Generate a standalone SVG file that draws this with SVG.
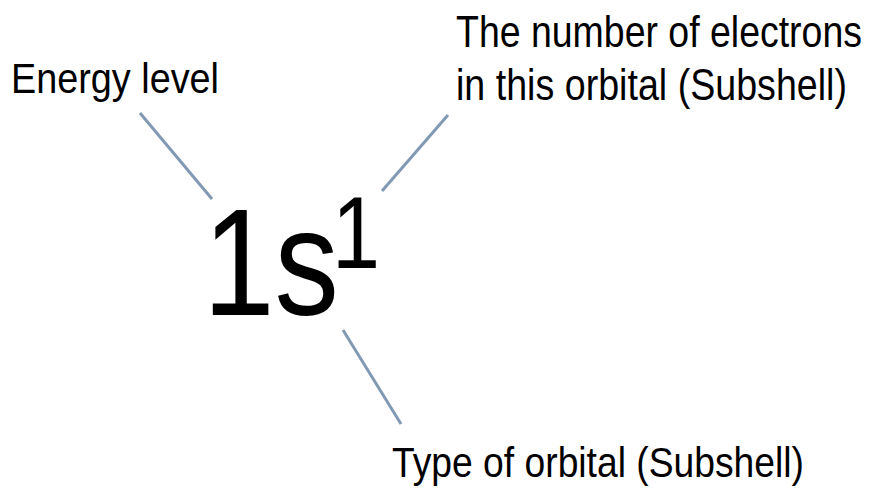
<svg xmlns="http://www.w3.org/2000/svg" width="870" height="488" viewBox="0 0 870 488">
<style>
.lbl{font-family:"Liberation Sans",Arial,sans-serif;fill:#000}
.conn line{stroke:#8199b2;stroke-width:3;stroke-linecap:butt}
</style>
<rect width="870" height="488" fill="#fff"/>
<g id="connectors" class="conn">
<line x1="140" y1="113" x2="212" y2="199"/>
<line x1="448" y1="115" x2="382" y2="191"/>
<line x1="343" y1="330" x2="401" y2="424"/>
</g>
<g id="notation">
<text class="lbl" x="203" y="315" font-size="153" textLength="136" lengthAdjust="spacingAndGlyphs">1s</text>
<text class="lbl" x="332" y="268" font-size="102" textLength="48" lengthAdjust="spacingAndGlyphs">1</text>
</g>
<g id="energy-level">
<text class="lbl" x="11" y="93" font-size="43" textLength="208" lengthAdjust="spacingAndGlyphs">Energy level</text>
</g>
<g id="electrons">
<text class="lbl" x="456" y="47" font-size="44" textLength="406" lengthAdjust="spacingAndGlyphs">The number of electrons</text>
<text class="lbl" x="456" y="100" font-size="44" textLength="391" lengthAdjust="spacingAndGlyphs">in this orbital (Subshell)</text>
</g>
<g id="orbital-type">
<text class="lbl" x="392" y="477" font-size="42" textLength="412" lengthAdjust="spacingAndGlyphs">Type of orbital (Subshell)</text>
</g>
</svg>
